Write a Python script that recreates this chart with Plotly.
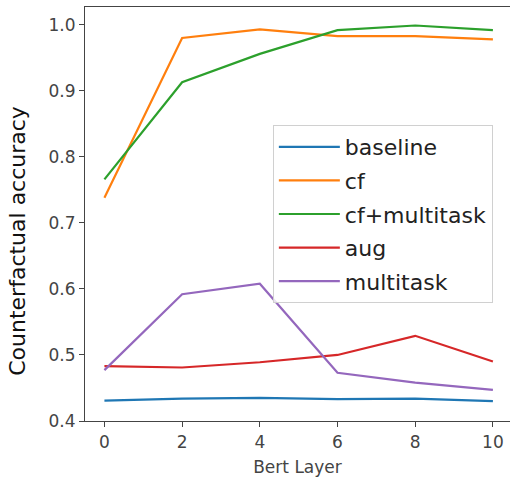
import plotly.graph_objects as go

layers = [0, 2, 4, 6, 8, 10]

baseline = [0.431, 0.434, 0.435, 0.433, 0.434, 0.430]
cf = [0.738, 0.980, 0.993, 0.983, 0.983, 0.978]
cf_multitask = [0.766, 0.913, 0.956, 0.992, 0.999, 0.992]
aug = [0.483, 0.481, 0.489, 0.500, 0.529, 0.490]
multitask = [0.477, 0.592, 0.608, 0.473, 0.458, 0.447]

series = [
    ("baseline", baseline, "#1f77b4"),
    ("cf", cf, "#ff7f0e"),
    ("cf+multitask", cf_multitask, "#2ca02c"),
    ("aug", aug, "#d62728"),
    ("multitask", multitask, "#9467bd"),
]

fig = go.Figure()

for name, vals, color in series:
    fig.add_trace(
        go.Scatter(
            x=layers,
            y=vals,
            mode="lines",
            name=name,
            legendgroup=name,
            line=dict(color=color, width=2.2),
        )
    )

axis_font = dict(family="DejaVu Sans", size=17, color="#444444")

# y title placed by hand, matplotlib put it a bit lower than the axis centre
fig.add_annotation(
    text="Counterfactual accuracy",
    xref="paper", yref="paper",
    x=-0.158, y=0.435,
    xanchor="center", yanchor="middle",
    textangle=-90,
    showarrow=False,
    font=dict(family="DejaVu Sans", size=22, color="#111111"),
)

fig.update_layout(
    width=510,
    height=477,
    margin=dict(l=85, r=0, t=7, b=56),
    paper_bgcolor="white",
    plot_bgcolor="white",
    font=dict(family="DejaVu Sans", color="#222222"),
    legend=dict(
        x=0.442,
        y=0.715,
        xanchor="left",
        yanchor="top",
        bgcolor="rgba(255,255,255,0.8)",
        bordercolor="#d0d0d0",
        borderwidth=1,
        font=dict(family="DejaVu Sans", size=22, color="#222222"),
        itemwidth=61,
        tracegroupgap=2,
    ),
    xaxis=dict(
        range=[-0.5, 10.44],
        tickvals=layers,
        ticks="outside",
        ticklen=5,
        tickcolor="#444444",
        tickfont=axis_font,
        showline=True,
        linecolor="#444444",
        linewidth=1.2,
        mirror=True,
        showgrid=False,
        zeroline=False,
        title=dict(text="Bert Layer", font=dict(family="DejaVu Sans", size=17, color="#444444"), standoff=10),
    ),
    yaxis=dict(
        range=[0.4, 1.027],
        tickvals=[0.4, 0.5, 0.6, 0.7, 0.8, 0.9, 1.0],
        ticktext=["0.4", "0.5", "0.6", "0.7", "0.8", "0.9", "1.0"],
        ticks="outside",
        ticklen=5,
        tickcolor="#444444",
        tickfont=axis_font,
        showline=True,
        linecolor="#444444",
        linewidth=1.2,
        showgrid=False,
        zeroline=False,
    ),
)

fig.write_html(
    "out.html",
    config={"displayModeBar": False},
    post_script="document.body.style.margin='0';document.body.style.overflow='hidden';",
)
